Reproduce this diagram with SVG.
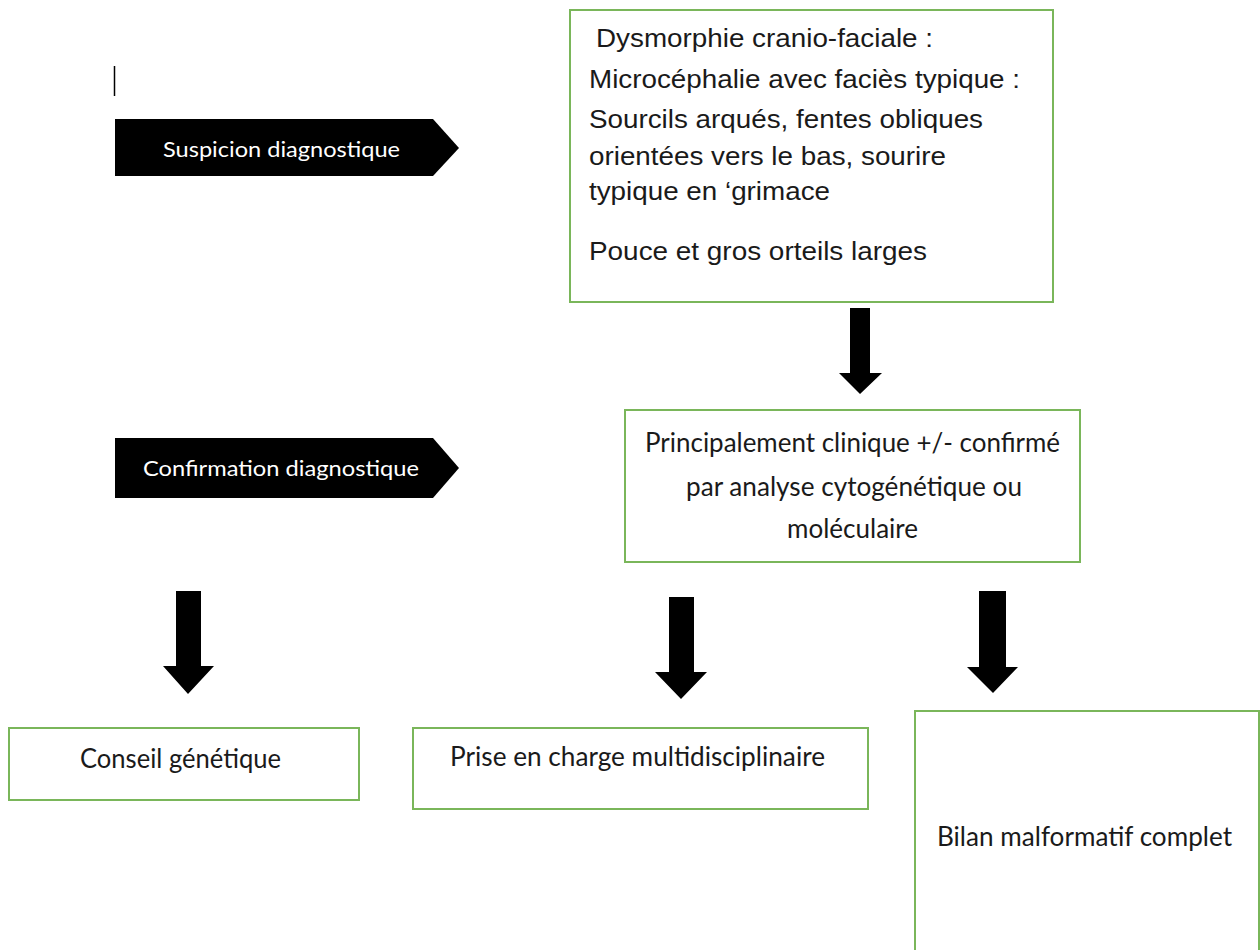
<svg xmlns="http://www.w3.org/2000/svg" width="1260" height="950" viewBox="0 0 1260 950">
  <style>
    .box { fill: #ffffff; stroke: #7ab65a; stroke-width: 2; }
    .tag { fill: #000000; }
    .tag-text { font-family: Lato, "Open Sans", sans-serif; font-size: 21px; fill: #ffffff; text-anchor: middle; }
    .arial { font-family: "Liberation Sans", Arial, sans-serif; font-size: 26px; fill: #1a1a1a; }
    .cal { font-family: Lato, "Open Sans", sans-serif; font-size: 26px; fill: #1a1a1a; text-anchor: middle; }
    .arrow { fill: #000000; }
  </style>

  <rect width="1260" height="950" fill="#ffffff"/>

  <!-- text cursor mark -->
  <line x1="114.5" y1="66" x2="114.5" y2="96" stroke="#000" stroke-width="1.5"/>

  <!-- stage tags -->
  <g id="tag-suspicion">
    <polygon class="tag" points="115,119 433,119 459,148 433,176 115,176"/>
    <text class="tag-text" x="281.5" y="157" textLength="237" lengthAdjust="spacingAndGlyphs">Suspicion diagnostique</text>
  </g>
  <g id="tag-confirmation">
    <polygon class="tag" points="115,438 433,438 459,468 433,498 115,498"/>
    <text class="tag-text" x="281" y="476" textLength="276" lengthAdjust="spacingAndGlyphs">Confirmation diagnostique</text>
  </g>

  <!-- clinical signs -->
  <g id="node-dysmorphie">
    <rect class="box" x="570" y="10" width="483" height="292"/>
    <text class="arial" x="596" y="47" textLength="337" lengthAdjust="spacingAndGlyphs">Dysmorphie cranio-faciale :</text>
    <text class="arial" x="589" y="88" textLength="431" lengthAdjust="spacingAndGlyphs">Microcéphalie avec faciès typique :</text>
    <text class="arial" x="589" y="128" textLength="394" lengthAdjust="spacingAndGlyphs">Sourcils arqués, fentes obliques</text>
    <text class="arial" x="589" y="165" textLength="357" lengthAdjust="spacingAndGlyphs">orientées vers le bas, sourire</text>
    <text class="arial" x="589" y="200" textLength="241" lengthAdjust="spacingAndGlyphs">typique en ‘grimace</text>
    <text class="arial" x="589" y="260" textLength="338" lengthAdjust="spacingAndGlyphs">Pouce et gros orteils larges</text>
  </g>

  <!-- diagnosis -->
  <g id="node-diagnostic">
    <rect class="box" x="625" y="410" width="455" height="152"/>
    <text class="cal" x="852.5" y="452" textLength="415" lengthAdjust="spacingAndGlyphs">Principalement clinique +/- confirmé</text>
    <text class="cal" x="854" y="496" textLength="336" lengthAdjust="spacingAndGlyphs">par analyse cytogénétique ou</text>
    <text class="cal" x="852.5" y="538" textLength="131" lengthAdjust="spacingAndGlyphs">moléculaire</text>
  </g>

  <!-- management -->
  <g id="node-conseil">
    <rect class="box" x="9" y="728" width="350" height="72"/>
    <text class="cal" x="180.5" y="768" textLength="201" lengthAdjust="spacingAndGlyphs">Conseil génétique</text>
  </g>
  <g id="node-prise-en-charge">
    <rect class="box" x="413" y="728" width="455" height="81"/>
    <text class="cal" x="637.5" y="766" textLength="375" lengthAdjust="spacingAndGlyphs">Prise en charge multidisciplinaire</text>
  </g>
  <g id="node-bilan">
    <rect class="box" x="915" y="711" width="344" height="260"/>
    <text class="cal" x="1084.5" y="846" textLength="295" lengthAdjust="spacingAndGlyphs">Bilan malformatif complet</text>
  </g>

  <!-- block arrows -->
  <g id="connectors">
    <polygon class="arrow" points="850,308 870,308 870,373 882,373 860,394 839,373 850,373"/>
    <polygon class="arrow" points="176,591 201,591 201,666 214,666 188,694 163,666 176,666"/>
    <polygon class="arrow" points="669,597 694,597 694,672 707,672 681,699 655,672 669,672"/>
    <polygon class="arrow" points="979,591 1006,591 1006,667 1018,667 993,693 967,667 979,667"/>
  </g>
</svg>
